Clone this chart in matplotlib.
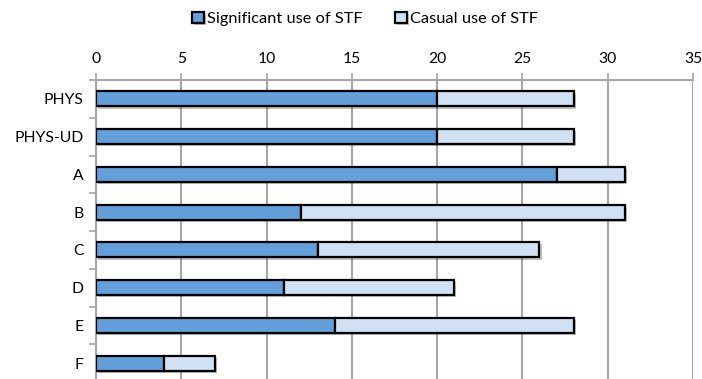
import matplotlib
matplotlib.use("Agg")
import matplotlib.pyplot as plt
import matplotlib.patheffects as pe
import numpy as np

categories = ["PHYS", "PHYS-UD", "A", "B", "C", "D", "E", "F"]
significant = [20, 20, 27, 12, 13, 11, 14, 4]
casual = [8, 8, 4, 19, 13, 10, 14, 3]
xticks = [0, 5, 10, 15, 20, 25, 30, 35]

dark_blue = "#629FDB"
light_blue = "#D0E1F3"
grid_gray = "#A6A6A6"

plt.rcParams["font.family"] = ["Lato", "DejaVu Sans"]

fig = plt.figure(figsize=(7.02, 3.79), dpi=100)
# axes box in figure fractions: left, bottom, width, height
ax = fig.add_axes([96 / 702, -3 / 379, 597 / 702, 302 / 379])

y = np.arange(len(categories))
shadow = [pe.SimplePatchShadow(offset=(1.5, -1.5), alpha=0.25, shadow_rgbFace="#000000"), pe.Normal()]

b1 = ax.barh(y, significant, height=0.4, color=dark_blue, edgecolor="black",
             linewidth=1.6, label="Significant use of STF", zorder=3)
b2 = ax.barh(y, casual, left=significant, height=0.4, color=light_blue,
             edgecolor="black", linewidth=1.6, label="Casual use of STF", zorder=3)
for bar in list(b1) + list(b2):
    bar.set_path_effects(shadow)

ax.set_xlim(0, 35)
ax.set_ylim(len(categories) - 0.5, -0.5)
ax.set_xticks(xticks)
ax.set_xticklabels([str(v) for v in xticks])
ax.xaxis.tick_top()
ax.xaxis.set_label_position("top")

ax.set_yticks(y)
ax.set_yticklabels(categories)
ax.set_yticks(np.arange(len(categories) + 1) - 0.5, minor=True)

ax.grid(axis="x", color=grid_gray, linewidth=1.5, zorder=0)
for side in ["right", "bottom"]:
    ax.spines[side].set_visible(False)
for side in ["top", "left"]:
    ax.spines[side].set_color(grid_gray)
    ax.spines[side].set_linewidth(1.5)

ax.tick_params(axis="x", which="major", direction="out", length=5, width=1.2,
               color=grid_gray, labelsize=11.3, pad=5)
ax.tick_params(axis="y", which="major", length=0, labelsize=11.3, pad=9)
ax.tick_params(axis="y", which="minor", direction="out", length=5, width=1.2,
               color=grid_gray)

fig.legend(handles=[b1, b2], loc="center", bbox_to_anchor=(0.52, 1 - 19 / 379),
           ncol=2, frameon=False, fontsize=11.8, handlelength=0.7,
           handleheight=0.7, handletextpad=0.2, columnspacing=2.0)

fig.savefig("out.png", dpi=100)
